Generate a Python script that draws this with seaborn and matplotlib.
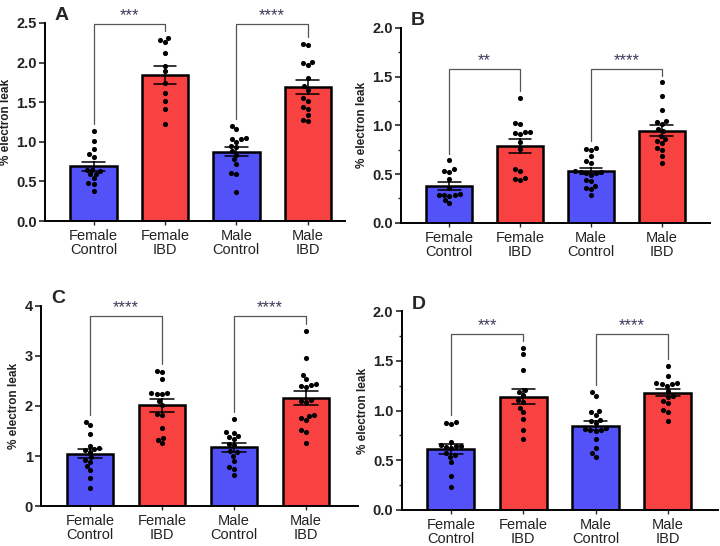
import pandas as pd
import seaborn as sns
import matplotlib.pyplot as plt
from matplotlib.ticker import MultipleLocator

groups = ["Female\nControl", "Female\nIBD", "Male\nControl", "Male\nIBD"]

# panel A
a_fc = [1.14, 1.01, 0.91, 0.85, 0.81, 0.65, 0.64, 0.63, 0.60, 0.59, 0.54, 0.48, 0.47, 0.38]
a_fi = [2.31, 2.28, 2.26, 2.12, 1.96, 1.89, 1.74, 1.61, 1.52, 1.42, 1.22]
a_mc = [1.20, 1.16, 1.05, 1.04, 1.03, 1.00, 0.95, 0.93, 0.88, 0.84, 0.78, 0.72, 0.61, 0.60, 0.37]
a_mi = [2.24, 2.22, 2.01, 2.00, 1.97, 1.80, 1.70, 1.65, 1.55, 1.52, 1.44, 1.41, 1.34, 1.28, 1.26]

# panel B
b_fc = [0.64, 0.55, 0.53, 0.52, 0.45, 0.36, 0.30, 0.29, 0.29, 0.28, 0.27, 0.23, 0.20]
b_fi = [1.28, 1.02, 1.01, 0.93, 0.92, 0.93, 0.91, 0.83, 0.76, 0.55, 0.53, 0.46, 0.45, 0.44]
b_mc = [0.77, 0.76, 0.75, 0.69, 0.63, 0.61, 0.53, 0.52, 0.52, 0.51, 0.51, 0.49, 0.44, 0.43,
        0.38, 0.36, 0.35, 0.29]
b_mi = [1.44, 1.30, 1.16, 1.04, 1.03, 1.01, 0.96, 0.94, 0.89, 0.86, 0.84, 0.82, 0.77, 0.75, 0.68, 0.61]

# panel C
c_fc = [1.68, 1.62, 1.45, 1.21, 1.17, 1.15, 1.12, 1.08, 0.98, 0.93, 0.88, 0.80, 0.72, 0.56, 0.37]
c_fi = [2.69, 2.68, 2.53, 2.26, 2.24, 2.25, 2.23, 2.10, 2.01, 1.84, 1.82, 1.56, 1.36, 1.33, 1.26]
c_mc = [1.73, 1.48, 1.47, 1.41, 1.39, 1.35, 1.25, 1.23, 1.10, 1.08, 1.01, 0.91, 0.79, 0.75, 0.62]
c_mi = [3.49, 2.96, 2.61, 2.53, 2.43, 2.42, 2.40, 2.38, 2.12, 2.10, 2.08, 1.82, 1.80, 1.75,
        1.71, 1.52, 1.48, 1.27]

# panel D
d_fc = [0.89, 0.88, 0.87, 0.68, 0.65, 0.64, 0.64, 0.63, 0.62, 0.57, 0.55, 0.53, 0.48, 0.34, 0.23]
d_fi = [1.63, 1.57, 1.41, 1.21, 1.19, 1.16, 1.11, 1.09, 1.03, 0.99, 0.92, 0.80, 0.71]
d_mc = [1.19, 1.15, 1.00, 0.99, 0.96, 0.91, 0.90, 0.88, 0.82, 0.81, 0.80, 0.80, 0.79, 0.71,
        0.62, 0.57, 0.53]
d_mi = [1.45, 1.35, 1.28, 1.28, 1.27, 1.27, 1.25, 1.20, 1.15, 1.14, 1.10, 1.08, 1.01, 0.99, 0.90]

stars = {"A": ["***", "****"], "B": ["**", "****"], "C": ["****", "****"], "D": ["***", "****"]}

sns.set_style("ticks")
plt.rcParams['font.family'] = ['Liberation Sans', 'DejaVu Sans']

blue = "#5252F8"
red = "#F84141"

panels = [
    ("A", [a_fc, a_fi, a_mc, a_mi], [0.0625, 0.595, 0.4165, 0.363], 2.5, 0.5, None, 2.49, 3.52),
    ("B", [b_fc, b_fi, b_mc, b_mi], [0.557, 0.592, 0.429, 0.357], 2.0, 0.5, 0.25, 1.58, 3.68),
    ("C", [c_fc, c_fi, c_mc, c_mi], [0.057, 0.073, 0.44, 0.367], 4.0, 1.0, None, 3.79, 3.72),
    ("D", [d_fc, d_fi, d_mc, d_mi], [0.558, 0.066, 0.439, 0.364], 2.0, 0.5, 0.25, 1.77, 3.69),
]

fig = plt.figure(figsize=(7.2, 5.46), dpi=100)

for letter, vals, pos, ymax, major, minor, top, xright in panels:
    ax = fig.add_axes(pos)
    rows = []
    for g, v in zip(groups, vals):
        for x in v:
            rows.append({"group": g, "value": x})
    df = pd.DataFrame(rows)

    sns.barplot(data=df, x="group", y="value", hue="group", order=groups,
                palette=[blue, red, blue, red], saturation=1, errorbar="se",
                capsize=0.32, width=0.65, edgecolor="black", linewidth=1.8,
                err_kws={"color": "black", "linewidth": 1.1}, legend=False, ax=ax)
    sns.swarmplot(data=df, x="group", y="value", order=groups, color="black",
                  size=3.7, ax=ax, zorder=5)

    # significance brackets
    pad = ymax * 0.035
    for i, (l, r) in enumerate([(0, 1), (2, 3)]):
        lb = max(vals[l]) + pad
        rb = max(vals[r]) + pad
        ax.plot([l, l, r, r], [lb, top, top, rb], color="#555555", lw=0.9,
                clip_on=False, zorder=6)
        ax.annotate(stars[letter][i], xy=((l + r) / 2, top), xytext=(0, 0.5),
                    textcoords="offset points", ha="center", va="bottom",
                    fontsize=12, color="#3a3a5a", annotation_clip=False)

    ax.set_ylim(0, ymax)
    ax.set_xlim(-0.68, xright)
    ax.yaxis.set_major_locator(MultipleLocator(major))
    if minor:
        ax.yaxis.set_minor_locator(MultipleLocator(minor))
    if major < 1:
        ax.set_yticklabels([f"{t:.1f}" for t in ax.get_yticks()])
    else:
        ax.set_yticklabels([f"{t:.0f}" for t in ax.get_yticks()])
    sns.despine(ax=ax)
    for s in ["left", "bottom"]:
        ax.spines[s].set_linewidth(1.4)
        ax.spines[s].set_color("black")
    ax.tick_params(axis="y", which="major", length=4, width=1.2, labelsize=10.5, pad=2)
    ax.tick_params(axis="y", which="minor", length=2.5, width=1.0)
    ax.tick_params(axis="x", length=3, width=1.0, labelsize=10.5, pad=3)
    for t in ax.get_yticklabels():
        t.set_fontweight("bold")
        t.set_color("#222222")
    for t in ax.get_xticklabels():
        t.set_color("#222222")
        t.set_linespacing(1.0)
    ax.set_xlabel("")
    ax.set_ylabel("% electron leak", fontsize=8.5, fontweight="bold", labelpad=3,
                  color="#222222")
    ax.annotate(letter, xy=(0, 1), xycoords="axes fraction", xytext=(7, -1),
                textcoords="offset points", fontsize=14, fontweight="bold",
                va="bottom", ha="left", annotation_clip=False)

fig.savefig("out.png", dpi=100)
